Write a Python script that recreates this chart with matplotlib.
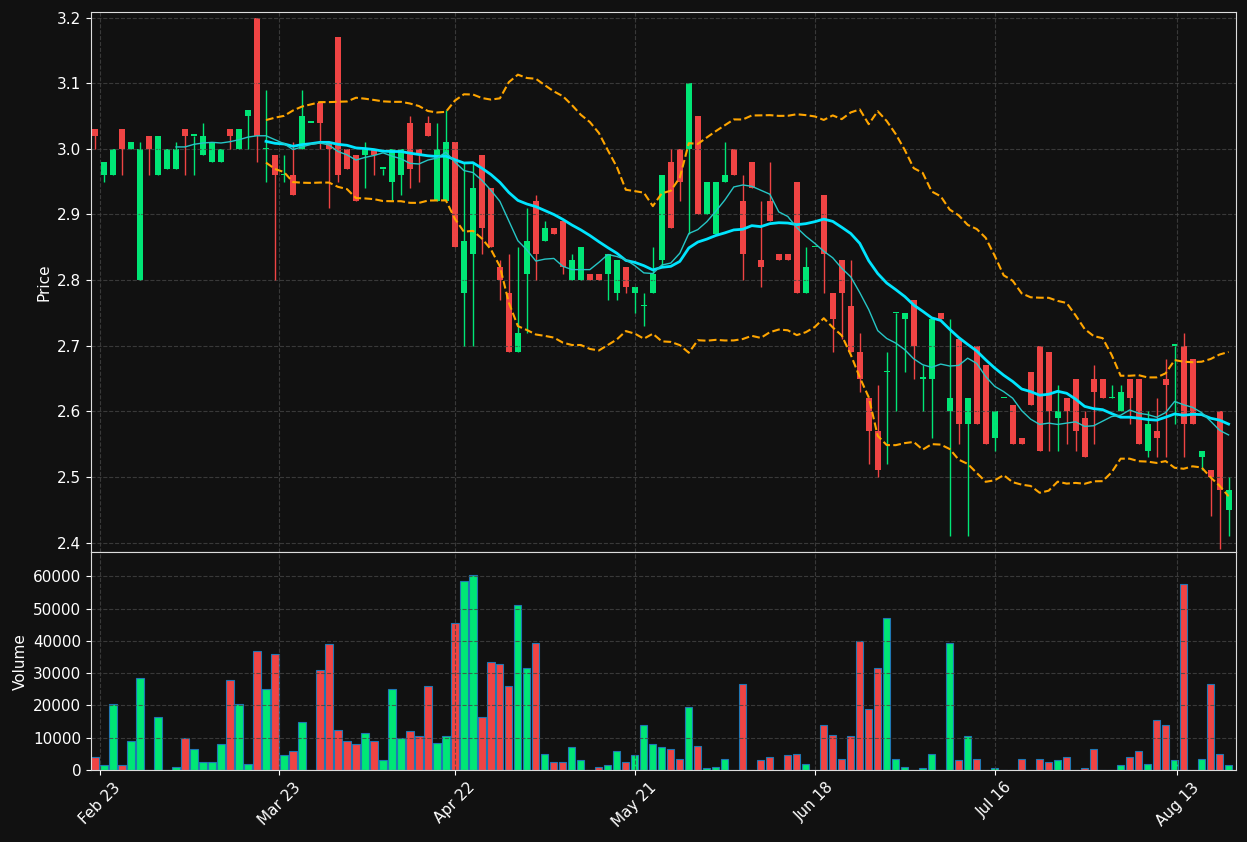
import numpy as np
import pandas as pd
import matplotlib

matplotlib.use("Agg")
import matplotlib.pyplot as plt

# OHLC, one row per trading session
opens = [3.03, 2.96, 2.96, 3.03, 3.00, 2.80, 3.02, 2.96, 2.97, 2.97, 3.03, 3.02, 2.99, 2.98, 2.98, 3.03,
         3.00, 3.05, 3.20, 3.00, 2.99, 2.96, 2.96, 3.00, 3.04, 3.07, 3.01, 3.17, 3.00, 2.99, 2.99, 3.00,
         2.97, 2.95, 2.96, 3.04, 3.00, 3.04, 2.92, 2.92, 3.01, 2.78, 2.84, 2.99, 2.94, 2.82, 2.78, 2.69,
         2.81, 2.92, 2.86, 2.88, 2.89, 2.80, 2.80, 2.81, 2.81, 2.81, 2.78, 2.82, 2.78, 2.76, 2.78,
         2.83, 2.98, 3.00, 3.00, 3.05, 2.90, 2.87, 2.95, 3.00, 2.92, 2.98, 2.83, 2.92, 2.84, 2.84, 2.95,
         2.78, 2.85, 2.93, 2.78, 2.83, 2.76, 2.69, 2.62, 2.57, 2.66, 2.75, 2.74, 2.77, 2.65, 2.65,
         2.75, 2.60, 2.71, 2.58, 2.70, 2.67, 2.56, 2.62, 2.61, 2.56, 2.66, 2.70, 2.69, 2.59, 2.62, 2.65,
         2.59, 2.65, 2.65, 2.62, 2.60, 2.65, 2.65, 2.54, 2.57, 2.65, 2.70, 2.70, 2.68, 2.53, 2.51, 2.60, 2.45]
highs = [3.03, 2.98, 3.00, 3.03, 3.01, 3.01, 3.02, 3.02, 3.00, 3.01, 3.03, 3.02, 3.04, 3.01, 3.00, 3.03,
         3.03, 3.06, 3.20, 3.09, 2.99, 2.99, 3.01, 3.09, 3.04, 3.07, 3.01, 3.17, 3.00, 2.99, 3.01, 3.00,
         2.97, 3.00, 3.00, 3.05, 3.00, 3.05, 3.04, 3.06, 3.01, 2.98, 2.98, 2.99, 2.94, 2.83, 2.84, 2.85,
         2.91, 2.93, 2.89, 2.88, 2.89, 2.84, 2.85, 2.81, 2.81, 2.84, 2.83, 2.82, 2.79, 2.78, 2.85,
         2.96, 3.00, 3.00, 3.10, 3.05, 2.95, 2.95, 3.01, 3.00, 2.96, 2.98, 2.92, 2.98, 2.84, 2.84, 2.95,
         2.85, 2.85, 2.93, 2.78, 2.83, 2.83, 2.72, 2.62, 2.64, 2.69, 2.75, 2.75, 2.77, 2.67, 2.74,
         2.75, 2.74, 2.71, 2.62, 2.70, 2.67, 2.60, 2.62, 2.61, 2.56, 2.66, 2.70, 2.69, 2.64, 2.62, 2.65,
         2.60, 2.67, 2.65, 2.64, 2.64, 2.65, 2.65, 2.60, 2.62, 2.68, 2.70, 2.72, 2.68, 2.54, 2.51, 2.60, 2.50]
lows = [3.00, 2.95, 2.96, 2.96, 3.00, 2.80, 2.96, 2.96, 2.97, 2.97, 2.96, 2.96, 2.99, 2.98, 2.98, 3.00,
        3.00, 3.00, 2.98, 2.95, 2.80, 2.95, 2.93, 3.00, 3.04, 3.00, 2.91, 2.95, 2.97, 2.92, 2.94, 2.96,
        2.96, 2.92, 2.93, 2.94, 2.95, 3.02, 2.92, 2.92, 2.85, 2.70, 2.70, 2.84, 2.85, 2.77, 2.69, 2.69,
        2.72, 2.80, 2.86, 2.87, 2.81, 2.80, 2.80, 2.80, 2.80, 2.77, 2.77, 2.78, 2.75, 2.73, 2.78,
        2.82, 2.88, 2.92, 2.87, 2.90, 2.90, 2.87, 2.95, 2.96, 2.80, 2.94, 2.79, 2.89, 2.83, 2.83, 2.78,
        2.78, 2.85, 2.78, 2.69, 2.71, 2.69, 2.63, 2.52, 2.50, 2.52, 2.60, 2.66, 2.65, 2.60, 2.56,
        2.74, 2.41, 2.55, 2.41, 2.58, 2.55, 2.54, 2.62, 2.55, 2.55, 2.61, 2.54, 2.54, 2.54, 2.55, 2.54,
        2.53, 2.55, 2.62, 2.62, 2.60, 2.58, 2.55, 2.53, 2.53, 2.53, 2.58, 2.53, 2.58, 2.51, 2.44, 2.39, 2.41]
closes = [3.02, 2.98, 3.00, 3.00, 3.01, 3.00, 3.00, 3.02, 3.00, 3.00, 3.02, 3.02, 3.02, 3.01, 3.00, 3.02,
          3.03, 3.06, 3.02, 3.00, 2.96, 2.96, 2.93, 3.05, 3.04, 3.04, 3.00, 2.96, 2.97, 2.92, 3.00, 2.99,
          2.97, 3.00, 3.00, 2.97, 2.99, 3.02, 3.00, 3.01, 2.85, 2.86, 2.94, 2.88, 2.85, 2.80, 2.69, 2.72,
          2.86, 2.84, 2.88, 2.87, 2.82, 2.83, 2.85, 2.80, 2.80, 2.84, 2.83, 2.79, 2.79, 2.76, 2.81,
          2.96, 2.88, 2.95, 3.10, 2.90, 2.95, 2.95, 2.96, 2.96, 2.84, 2.94, 2.82, 2.89, 2.83, 2.83, 2.78,
          2.82, 2.85, 2.84, 2.74, 2.78, 2.69, 2.65, 2.57, 2.51, 2.66, 2.75, 2.75, 2.70, 2.65, 2.74,
          2.74, 2.62, 2.58, 2.62, 2.58, 2.55, 2.60, 2.62, 2.55, 2.55, 2.61, 2.54, 2.60, 2.60, 2.60, 2.57,
          2.53, 2.63, 2.62, 2.62, 2.63, 2.62, 2.55, 2.58, 2.56, 2.64, 2.70, 2.58, 2.58, 2.54, 2.50, 2.48, 2.48]
volumes = [4000, 1500, 20500, 1500, 9000, 28500, 0, 16500, 0, 800, 9800, 6500, 2500, 2500, 8000, 28000,
           20500, 2000, 37000, 25000, 36000, 4500, 6000, 15000, 0, 31000, 39000, 12500, 9000, 8000, 11500,
           9000, 3000, 25000, 10000, 12000, 10500, 26000, 8500, 10500, 45500, 58500, 60500, 16500, 33500,
           33000, 26000, 51000, 31500, 39500, 5000, 2500, 2500, 7000, 3000, 0, 1000, 1500, 6000, 2500,
           4500, 14000, 8000, 7000, 6500, 3500, 19500, 7500, 500, 1000, 3500, 0, 26500, 0, 3000, 4000,
           0, 4500, 5000, 2000, 0, 14000, 11000, 3500, 10500, 40000, 19000, 31500, 47000, 3500, 1000, 0,
           500, 5000, 0, 39500, 3000, 10500, 3500, 0, 500, 0, 0, 3500, 0, 3500, 2500, 3000, 4000, 0,
           500, 6500, 0, 0, 1500, 4000, 6000, 2000, 15500, 14000, 3000, 57500, 0, 3500, 26500, 5000, 1500]
tick_index = [0.5, 20.5, 40, 60, 80, 100, 120.3]
tick_labels = ["Feb 23", "Mar 23", "Apr 22", "May 21", "Jun 18", "Jul 16", "Aug 13"]

BG = "#111111"
UP = "#00e676"
DOWN = "#ef4444"

df = pd.DataFrame({"open": opens, "high": highs, "low": lows, "close": closes, "volume": volumes})
x = np.arange(len(df))
ma10 = df["close"].rolling(10).mean()
ma20 = df["close"].rolling(20).mean()
std20 = df["close"].rolling(20).std(ddof=0)
upper = ma20 + 2 * std20
lower = ma20 - 2 * std20
colors = np.where(df["close"] >= df["open"], UP, DOWN)

fig = plt.figure(figsize=(12.47, 8.42), dpi=100, facecolor=BG)
ax = fig.add_axes([0.073, 0.344, 0.918, 0.642])
axv = fig.add_axes([0.073, 0.0855, 0.918, 0.2585], sharex=ax)

for a in (ax, axv):
    a.set_facecolor(BG)
    a.grid(True, linestyle="--", color="#444444", linewidth=0.8, alpha=0.8)
    for s in a.spines.values():
        s.set_color("#dddddd")
    a.tick_params(colors="white", labelsize=11)

body = (df["close"] - df["open"]).abs().clip(lower=0.002)
bottom = np.minimum(df["open"], df["close"])
ax.vlines(x, df["low"], df["high"], colors=colors, linewidth=1)
ax.bar(x, body, bottom=bottom, width=0.65, color=colors, linewidth=0)
ax.plot(x, ma20, color="#00e5ff", linewidth=2)
ax.plot(x, ma10, color="#26c6c6", linewidth=1)
ax.plot(x, upper, color="orange", linestyle="--", linewidth=1.5)
ax.plot(x, lower, color="orange", linestyle="--", linewidth=1.5)
ax.set_ylim(2.385, 3.209)
ax.set_ylabel("Price", color="white", fontsize=11)
plt.setp(ax.get_xticklabels(), visible=False)

axv.bar(x, df["volume"], width=0.8, color=colors, edgecolor="#1f77b4", linewidth=0.8)
axv.set_ylim(0, 67450)
axv.set_ylabel("Volume", color="white", fontsize=11)
axv.set_xlim(-0.45, 126.8)
axv.set_xticks(tick_index)
axv.set_xticklabels(tick_labels, rotation=45)

fig.savefig("out.png", dpi=100, facecolor=BG)
